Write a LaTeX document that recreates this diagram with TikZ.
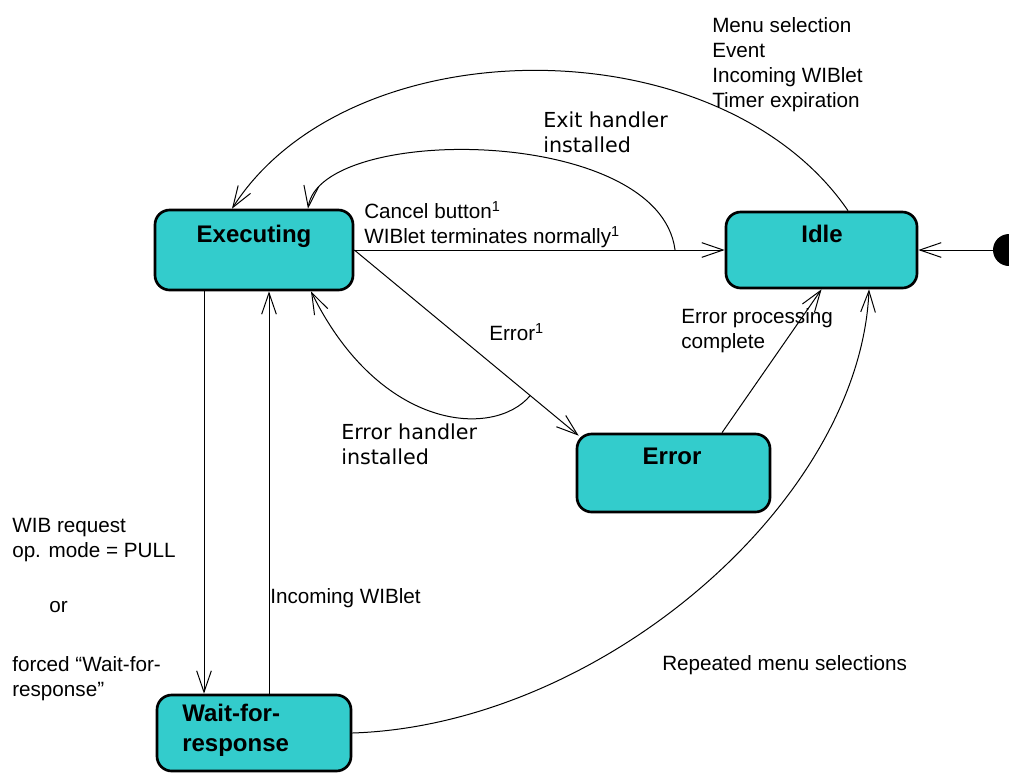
\documentclass[tikz,border=0pt]{standalone}
\usepackage{fontspec}
\setmainfont{Liberation Sans}
\newfontfamily\verdfont{DejaVu Sans}
\usetikzlibrary{arrows.meta}
\definecolor{statefill}{HTML}{33CCCC}

\begin{document}
\begin{tikzpicture}[x=0.75pt, y=-0.75pt,
        state/.style={draw, line width=2pt, fill=statefill, rounded corners=11pt, inner sep=0pt},
        statename/.style={anchor=north, inner sep=0pt, font=\fontsize{18}{22.5}\selectfont\bfseries},
        trans/.style={-{Straight Barb[length=16pt, width=11pt]}, line width=0.75pt},
        lbl/.style={anchor=north west, inner sep=0pt, align=left, font=\fontsize{15.5}{18.75}\selectfont},
        vlbl/.style={lbl, font=\verdfont\fontsize{15.5}{18.75}\selectfont}]
        \useasboundingbox (0,0) rectangle (1009,772);
        \node[state, minimum width=148.5pt, minimum height=60pt] (exec) at (254,250) {};
        \node[state, minimum width=143.25pt, minimum height=57pt] (idle) at (821.5,250) {};
        \node[state, minimum width=144.75pt, minimum height=58.5pt] (err) at (673.5,473) {};
        \node[state, minimum width=145.5pt, minimum height=57pt] (wait) at (254,733) {};
        \node[circle, fill, inner sep=0pt, minimum size=24pt] (init) at (1009,250) {};
        \node[statename] (execname) at (254,225) {Executing};
        \node[statename] (idlename) at (822,225) {Idle};
        \node[statename] (errname) at (672,448) {Error};
        \node[statename, anchor=north west, align=left] (waitname) at (182,704) {Wait-for-\\response};
        \draw[trans] (init.west) -- (idle.east);
        \draw[trans] (exec.east) -- coordinate[pos=0.866] (exitfoot) (idle.west);
        \draw[trans] (exec.east) -- coordinate[pos=0.784] (errfoot) ([shift={(3,3)}]err.north west);
        \draw[trans] ([shift={(26.5,0)}]idle.north) .. controls +(-128,-187) and +(118,-184) .. ([shift={(-22,0)}]exec.north);
        \draw[trans] (exitfoot) .. controls +(-16,-125) and +(12,-85) .. ([shift={(54,0)}]exec.north);
        \draw[trans] (errfoot) .. controls +(-36,43) and +(69,140) .. ([shift={(57,0)}]exec.south);
        \draw[trans] ([shift={(48.5,0)}]err.north) -- (idle.south);
        \draw[trans] (wait.east) .. controls +(249,-8) and +(-9,212) .. ([shift={(47.5,0)}]idle.south);
        \draw[trans] ([shift={(-50,0)}]exec.south) -- ([shift={(-50,0)}]wait.north);
        \draw[trans] ([shift={(15,0)}]wait.north) -- ([shift={(15,0)}]exec.south);
        \node[lbl] (trigtxt) at (712,17) {Menu selection\\Event\\Incoming WIBlet\\Timer expiration};
        \node[vlbl] (exittxt) at (543,112) {Exit handler\\installed};
        \node[lbl] (canceltxt) at (364,201) {Cancel button\textsuperscript{1}\\WIBlet terminates normally\textsuperscript{1}};
        \node[lbl] (errtxt) at (489,323) {Error\textsuperscript{1}};
        \node[vlbl] (errhtxt) at (341,424) {Error handler\\installed};
        \node[lbl] (proctxt) at (681,308) {Error processing\\complete};
        \node[lbl] (pulltxt) at (12,518) {WIB request\\op. mode = PULL\\[22.5pt]\hspace*{27.75pt}or\\[25.5pt]forced “Wait-for-\\response”};
        \node[lbl] (inctxt) at (270,588) {Incoming WIBlet};
        \node[lbl] (reptxt) at (662,655) {Repeated menu selections};
    \end{tikzpicture}
\end{document}
